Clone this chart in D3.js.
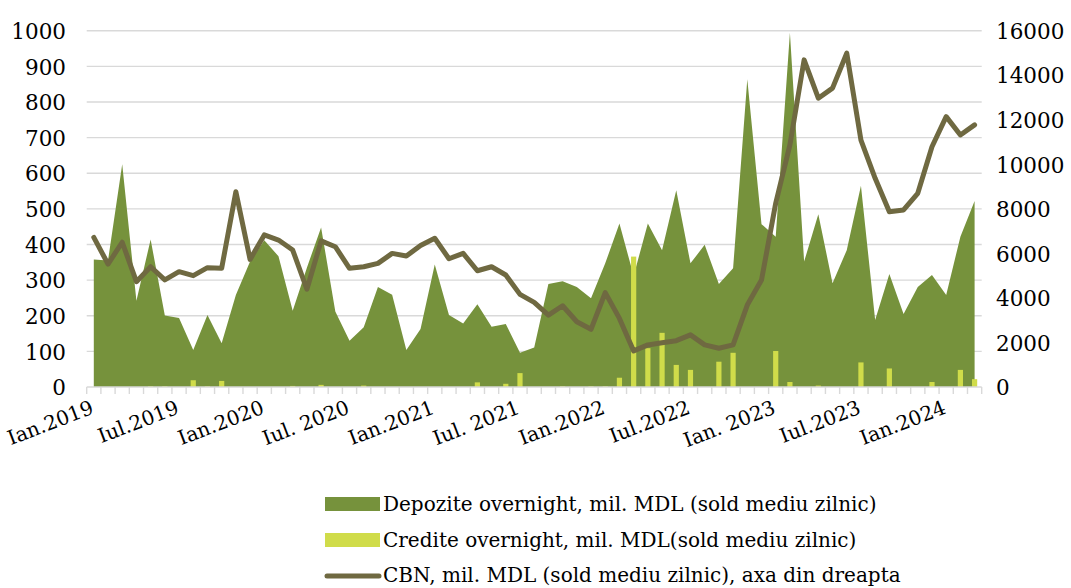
<!DOCTYPE html>
<html>
<head>
<meta charset="utf-8">
<script src="https://cdn.jsdelivr.net/npm/d3@7"></script>
<style>
  html, body { margin: 0; padding: 0; background: #ffffff; }
  svg { display: block; }
</style>
</head>
<body>
<svg id="chart" width="1071" height="588"></svg>
<script>
// ---- DATA ----
const months = [
  "2019-01","2019-02","2019-03","2019-04","2019-05","2019-06","2019-07","2019-08","2019-09","2019-10","2019-11","2019-12",
  "2020-01","2020-02","2020-03","2020-04","2020-05","2020-06","2020-07","2020-08","2020-09","2020-10","2020-11","2020-12",
  "2021-01","2021-02","2021-03","2021-04","2021-05","2021-06","2021-07","2021-08","2021-09","2021-10","2021-11","2021-12",
  "2022-01","2022-02","2022-03","2022-04","2022-05","2022-06","2022-07","2022-08","2022-09","2022-10","2022-11","2022-12",
  "2023-01","2023-02","2023-03","2023-04","2023-05","2023-06","2023-07","2023-08","2023-09","2023-10","2023-11","2023-12",
  "2024-01","2024-02","2024-03"
];
// Depozite overnight, mil. MDL (left axis)
const depozite = [
  358, 355, 625, 242, 414, 201, 194, 104, 202, 123, 258, 352,
  412, 367, 214, 335, 448, 212, 130, 168, 281, 259, 104, 163,
  344, 202, 178, 232, 169, 177, 96, 111, 289, 297, 281, 249,
  347, 459, 312, 459, 384, 552, 347, 399, 289, 333, 864, 457,
  422, 994, 352, 485, 291, 384, 565, 188, 317, 205, 281, 314,
  258, 422, 522
];
// Credite overnight, mil. MDL (left axis)
const credite = [
  0, 0, 0, 0, 2, 2, 0, 19, 2, 17, 0, 0,
  0, 0, 3, 0, 6, 0, 0, 4, 0, 0, 0, 0,
  0, 0, 0, 13, 0, 9, 39, 0, 0, 2, 0, 2,
  2, 26, 366, 109, 152, 62, 48, 0, 71, 96, 0, 0,
  101, 14, 0, 4, 0, 0, 69, 0, 52, 0, 0, 14,
  0, 48, 22
];
// CBN, mil. MDL (right axis)
const cbn = [
  6720, 5520, 6500, 4730, 5400, 4810, 5180, 5000, 5360, 5330, 8770, 5730,
  6830, 6600, 6150, 4390, 6560, 6300, 5330, 5400, 5550, 6000, 5880, 6350,
  6680, 5760, 6000, 5220, 5400, 5030, 4160, 3800, 3230, 3650, 2930, 2590,
  4240, 3080, 1620, 1890, 1990, 2080, 2340, 1890, 1740, 1890, 3680, 4800,
  8250, 10870, 14690, 12970, 13420, 14990, 11090, 9370, 7870, 7950, 8700, 10790,
  12140, 11320, 11770
];
const tickLabels = {
  "2019-01": "Ian.2019", "2019-07": "Iul.2019", "2020-01": "Ian.2020", "2020-07": "Iul. 2020",
  "2021-01": "Ian.2021", "2021-07": "Iul. 2021", "2022-01": "Ian.2022", "2022-07": "Iul.2022",
  "2023-01": "Ian. 2023", "2023-07": "Iul.2023", "2024-01": "Ian.2024"
};
const leftTicks = [0, 100, 200, 300, 400, 500, 600, 700, 800, 900, 1000];
const rightTicks = [0, 2000, 4000, 6000, 8000, 10000, 12000, 14000, 16000];
const legendLabels = [
  "Depozite overnight, mil. MDL (sold mediu zilnic)",
  "Credite overnight, mil. MDL(sold mediu zilnic)",
  "CBN, mil. MDL (sold mediu zilnic), axa din dreapta"
];

// ---- COLORS / STYLE ----
const cArea = "#76923c", cBar = "#d0dc4a", cLine = "#6f6941", cGrid = "#d9d9d9";
const font = "'DejaVu Serif', 'Liberation Serif', serif";

// ---- LAYOUT ----
const svg = d3.select("#chart");
const plot = { left: 86.7, right: 981.7, top: 30.7, bottom: 387 };

const x = d3.scaleBand().domain(months).range([plot.left, plot.right]).paddingInner(0).paddingOuter(0);
const yL = d3.scaleLinear().domain([0, 1000]).range([plot.bottom, plot.top]);
const yR = d3.scaleLinear().domain([0, 16000]).range([plot.bottom, plot.top]);
const cx = m => x(m) + x.bandwidth() / 2;

// gridlines
svg.append("g").selectAll("line").data(leftTicks.filter(d => d > 0)).join("line")
  .attr("x1", plot.left).attr("x2", plot.right)
  .attr("y1", d => yL(d)).attr("y2", d => yL(d))
  .attr("stroke", cGrid).attr("stroke-width", 1.4);

// area
const area = d3.area().x((d, i) => cx(months[i])).y0(yL(0)).y1(d => yL(d));
svg.append("path").datum(depozite).attr("d", area).attr("fill", cArea);

// bars
const barW = 5.2;
svg.append("g").selectAll("rect").data(credite).join("rect")
  .attr("x", (d, i) => cx(months[i]) - barW / 2)
  .attr("width", barW)
  .attr("y", d => yL(d))
  .attr("height", d => yL(0) - yL(d))
  .attr("fill", cBar);

// x axis line and ticks
svg.append("line").attr("x1", plot.left).attr("x2", plot.right)
  .attr("y1", plot.bottom).attr("y2", plot.bottom)
  .attr("stroke", cGrid).attr("stroke-width", 1.4);
const tickXs = months.map(m => x(m)).concat([plot.right]);
svg.append("g").selectAll("line").data(tickXs).join("line")
  .attr("x1", d => d).attr("x2", d => d)
  .attr("y1", plot.bottom).attr("y2", plot.bottom + 7)
  .attr("stroke", cGrid).attr("stroke-width", 1.4);

// line
const line = d3.line().x((d, i) => cx(months[i])).y(d => yR(d)).curve(d3.curveLinear);
svg.append("path").datum(cbn).attr("d", line)
  .attr("fill", "none").attr("stroke", cLine).attr("stroke-width", 5)
  .attr("stroke-linejoin", "round").attr("stroke-linecap", "round");

// left axis
const axL = svg.append("g").attr("transform", `translate(66,0)`)
  .call(d3.axisLeft(yL).tickValues(leftTicks).tickSize(0).tickPadding(0).tickFormat(d3.format("d")));
axL.select(".domain").remove();
axL.selectAll("text").attr("font-family", font).attr("font-size", 21.5).attr("fill", "#000").attr("dy", "0.36em");

// right axis
const axR = svg.append("g").attr("transform", `translate(996,0)`)
  .call(d3.axisRight(yR).tickValues(rightTicks).tickSize(0).tickPadding(0).tickFormat(d3.format("d")));
axR.select(".domain").remove();
axR.selectAll("text").attr("font-family", font).attr("font-size", 21.5).attr("fill", "#000").attr("dy", "0.36em");

// bottom labels
const axB = svg.append("g").attr("transform", `translate(0,${plot.bottom})`)
  .call(d3.axisBottom(x).tickValues(Object.keys(tickLabels)).tickSize(0).tickFormat(d => tickLabels[d]));
axB.select(".domain").remove();
axB.selectAll(".tick text")
  .attr("font-family", font).attr("font-size", 20).attr("fill", "#000")
  .attr("text-anchor", "end").attr("y", 0).attr("dy", 0)
  .attr("transform", "translate(1,26) rotate(-21)");

// legend
const lg = svg.append("g");
const rows = [504, 540, 575];
lg.append("rect").attr("x", 325).attr("y", rows[0] - 7).attr("width", 55).attr("height", 14).attr("fill", cArea);
lg.append("rect").attr("x", 325).attr("y", rows[1] - 7).attr("width", 55).attr("height", 14).attr("fill", cBar);
lg.append("line").attr("x1", 327).attr("x2", 379).attr("y1", rows[2] + 1).attr("y2", rows[2] + 1)
  .attr("stroke", cLine).attr("stroke-width", 5).attr("stroke-linecap", "round");
lg.selectAll("text").data(legendLabels).join("text")
  .attr("x", 383).attr("y", (d, i) => rows[i]).attr("dy", "0.35em")
  .attr("font-family", font).attr("font-size", 20).attr("fill", "#000")
  .text(d => d);
</script>
</body>
</html>
